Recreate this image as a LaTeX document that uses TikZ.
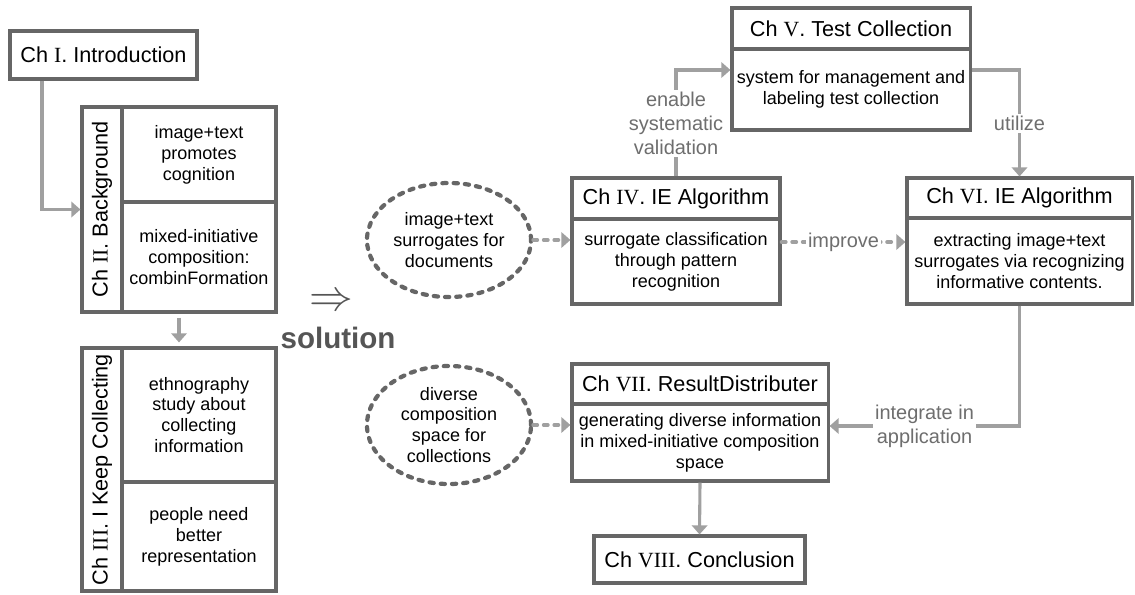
\documentclass[tikz,border=0pt]{standalone}
\usepackage{fontspec}
\setmainfont{Liberation Sans}
\newfontfamily\rmn{Liberation Serif}
\usetikzlibrary{arrows.meta,calc,shapes.geometric}
\definecolor{boxc}{HTML}{666666}
\definecolor{arrc}{HTML}{A0A0A0}
\definecolor{labc}{HTML}{6E6E6E}
\definecolor{solc}{HTML}{555555}
\newcommand{\R}[1]{{\rmn #1}}
\tikzset{
 box/.style={draw=boxc, line width=2.2pt, rectangle, inner sep=0pt, align=center, text=black},
 hdr/.style={box, font=\fontsize{15.4}{18}\selectfont},
 bodyc/.style={box, font=\fontsize{12.8}{14.9}\selectfont},
 vtxt/.style={rotate=90, font=\fontsize{15.4}{18}\selectfont, inner sep=0pt},
 arr/.style={draw=arrc, line width=2.2pt, -{Triangle[length=6.5pt,width=11pt]}},
 darr/.style={arr, line width=2.6pt, dash pattern=on 3pt off 4.5pt, line cap=round},
 oval/.style={ellipse, draw=boxc, line width=3pt, dash pattern=on 3pt off 5pt, line cap=round, inner sep=0pt, align=center, font=\fontsize{12.8}{14.9}\selectfont},
 lab/.style={fill=white, text=labc, font=\fontsize{14.2}{17}\selectfont, align=center, inner sep=1.5pt},
}
\begin{document}
\begin{tikzpicture}[x=0.025cm,y=-0.025cm]
\useasboundingbox (0,0) rectangle (1135,594);
% left column
\node[hdr, minimum width=4.675cm, minimum height=1.2cm] (intro) at (103.5,55) {Ch \R{I}. Introduction};
\node[box, minimum width=1cm, minimum height=5.125cm] (bgT) at (102,209.5) {};
\node[vtxt] (bgTt) at (bgT.center) {Ch \R{II}. Background};
\node[bodyc, minimum width=3.85cm, minimum height=2.375cm] (bg1) at (199,154.5) {image+text\\promotes\\cognition};
\node[bodyc, minimum width=3.85cm, minimum height=2.75cm] (bg2) at (199,257) {mixed-initiative\\composition:\\combinFormation};
\node[box, minimum width=1cm, minimum height=6.075cm] (kcT) at (102,469.5) {};
\node[vtxt] (kcTt) at (kcT.center) {Ch \R{III}. I Keep Collecting};
\node[bodyc, minimum width=3.85cm, minimum height=2.725cm] (kc2) at (199,536.5) {people need\\better\\representation};
\node[bodyc, minimum width=3.85cm, minimum height=3.35cm] (kc1) at (199,415) {ethnography\\study about\\collecting\\information};
% solution
\node[text=solc, inner sep=0pt, scale=1.8] (imp) at (331,302) {\LARGE$\Rightarrow$};
\node[text=solc, inner sep=0pt, font=\fontsize{21}{24}\selectfont\bfseries] (sol) at (338,338) {solution};
% ovals
\node[oval, minimum width=4.1cm, minimum height=2.85cm] (ell1) at (449,240) {image+text\\surrogates for\\documents};
\node[oval, minimum width=4.1cm, minimum height=2.95cm] (ell2) at (449,425) {diverse\\composition\\space for\\collections};
% chapters
\node[hdr, minimum width=5.95cm, minimum height=1.025cm] (ch5h) at (851,28.5) {Ch \R{V}. Test Collection};
\node[bodyc, minimum width=5.95cm, minimum height=2.025cm] (ch5b) at (851,89.5) {system for management and\\labeling test collection};
\node[hdr, minimum width=5.2cm, minimum height=1.025cm] (ch4h) at (676,198.5) {Ch \R{IV}. IE Algorithm};
\node[bodyc, minimum width=5.2cm, minimum height=2.125cm] (ch4b) at (676,261.5) {surrogate classification\\through pattern\\recognition};
\node[hdr, minimum width=5.625cm, minimum height=1cm] (ch6h) at (1019.5,198) {Ch \R{VI}. IE Algorithm};
\node[bodyc, minimum width=5.625cm, minimum height=2.15cm] (ch6b) at (1019.5,261) {extracting image+text\\surrogates via recognizing\\informative contents.};
\node[hdr, minimum width=6.4cm, minimum height=1cm] (ch7h) at (700,384) {Ch \R{VII}. ResultDistributer};
\node[bodyc, minimum width=6.4cm, minimum height=1.925cm] (ch7b) at (700,442.5) {generating diverse information\\in mixed-initiative composition\\space};
\node[hdr, minimum width=5.275cm, minimum height=1.175cm] (ch8) at (699.5,559.5) {Ch \R{VIII}. Conclusion};
% connectors
\coordinate (c1) at (42,210);
\draw[arr] (intro.south -| c1) |- (bgT.west);
\coordinate (t1) at ($(bgT.south west)!0.5!(bg2.south east)$);
\coordinate (t2) at ($(kcT.north west)!0.5!(kc1.north east)$);
\draw[arr, shorten <=0.1cm, shorten >=0.1cm] (t1) -- (t2);
\coordinate (i3) at ([yshift=0.4875cm]ch5b.west);
\draw[arr] (ch4h.north) |- (i3) node[lab, pos=0.25] {enable\\systematic\\validation};
\coordinate (i4) at ([yshift=0.4875cm]ch5b.east);
\draw[arr] (i4) -| (ch6h.north) node[lab, pos=0.75] {utilize};
\draw[darr] (ell1.east) -- (ell1.east -| ch4b.west);
\coordinate (i1) at ([yshift=0.4875cm]ch4b.east);
\draw[darr] (i1) -- (i1 -| ch6b.west) node[lab, midway] {improve};
\coordinate (i2) at ([yshift=0.4125cm]ch7b.east);
\draw[arr] (ch6b.south) |- (i2) node[lab, pos=0.75] {integrate in\\application};
\draw[darr] (ell2.east) -- (ell2.east -| ch7b.west);
\draw[arr] (ch7b.south) -- (ch8.north);
\end{tikzpicture}
\end{document}
